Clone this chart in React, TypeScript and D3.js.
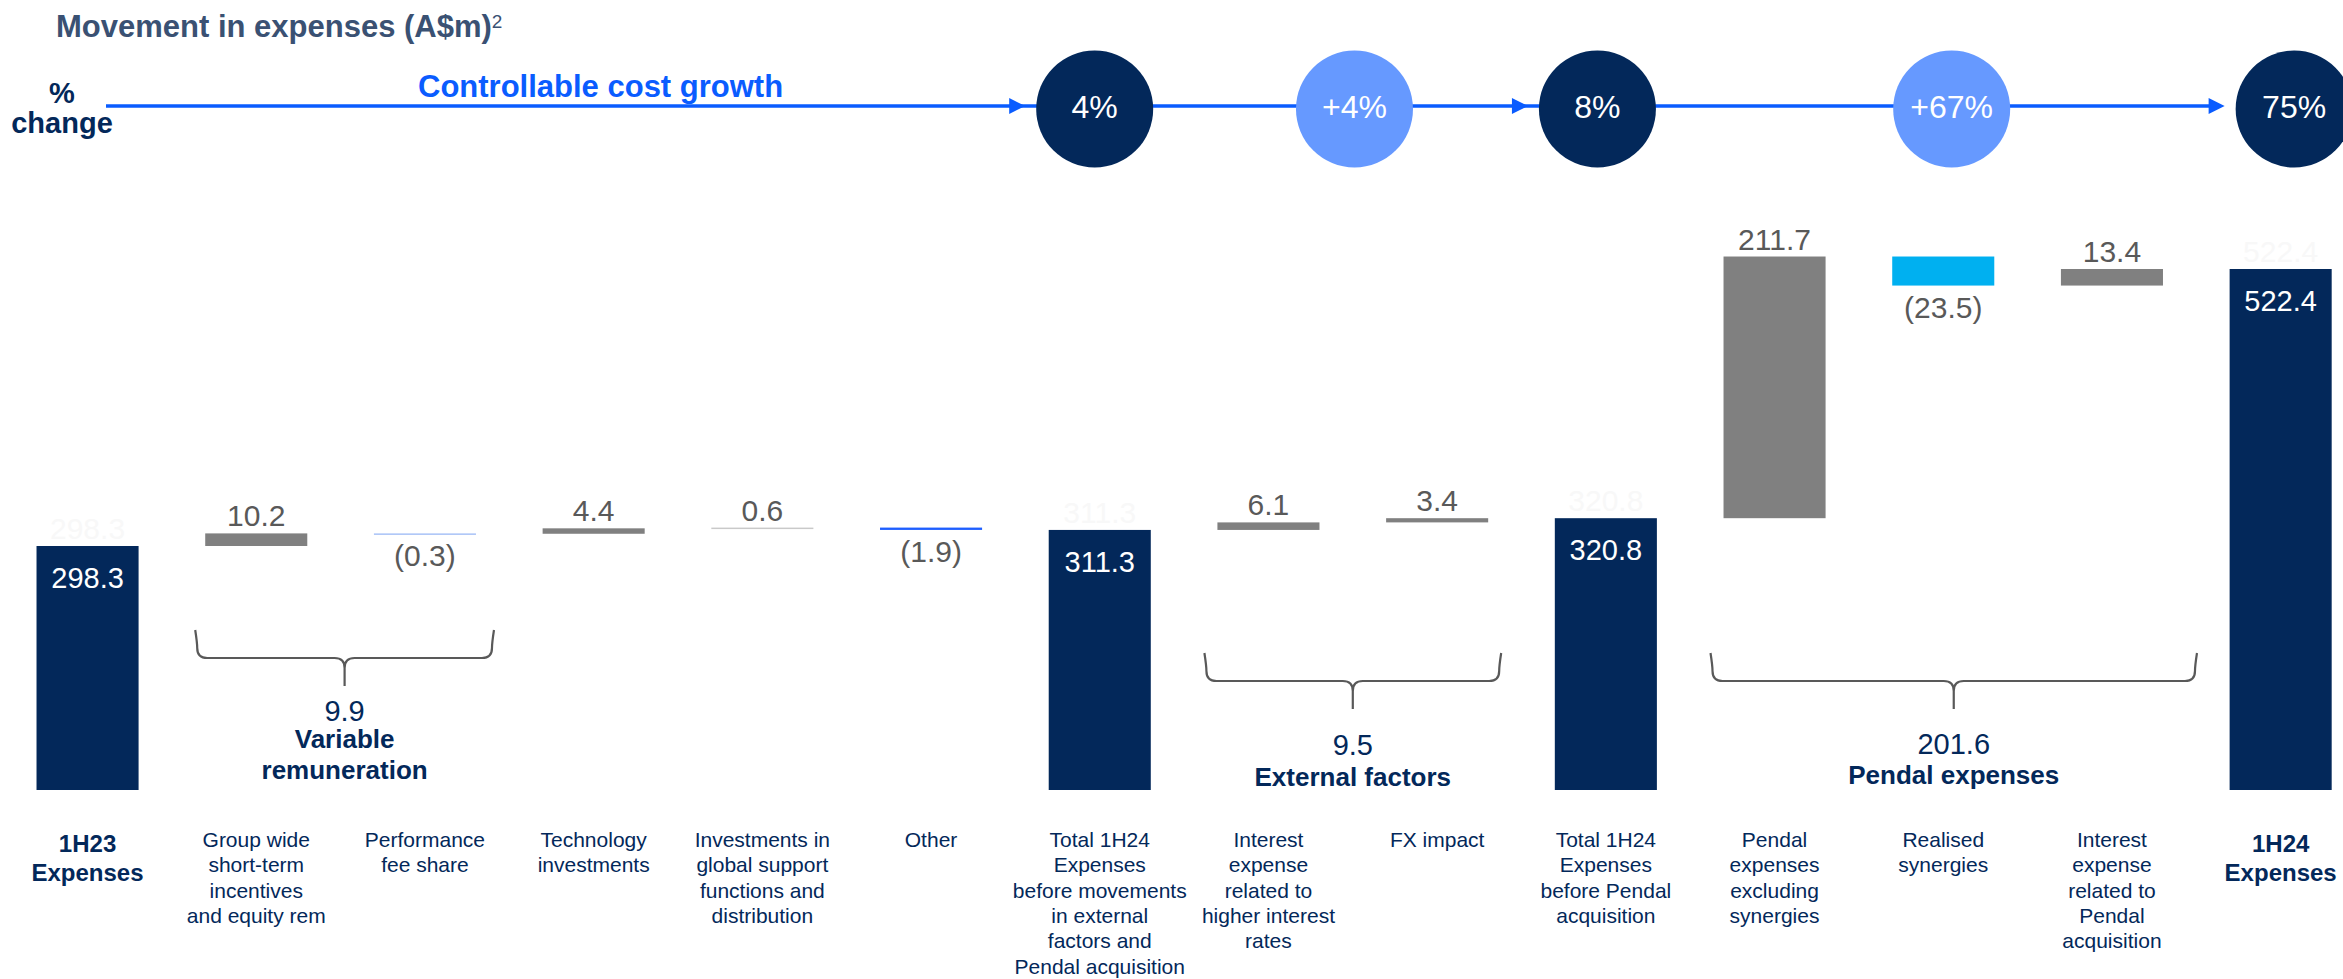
import React from 'react';
import * as d3 from 'd3';

// ---------- DATA ----------
const categories: string[][] = [
  ['1H23', 'Expenses'],
  ['Group wide', 'short-term', 'incentives', 'and equity rem'],
  ['Performance', 'fee share'],
  ['Technology', 'investments'],
  ['Investments in', 'global support', 'functions and', 'distribution'],
  ['Other'],
  ['Total 1H24', 'Expenses', 'before movements', 'in external', 'factors and', 'Pendal acquisition'],
  ['Interest', 'expense', 'related to', 'higher interest', 'rates'],
  ['FX impact'],
  ['Total 1H24', 'Expenses', 'before Pendal', 'acquisition'],
  ['Pendal', 'expenses', 'excluding', 'synergies'],
  ['Realised', 'synergies'],
  ['Interest', 'expense', 'related to', 'Pendal', 'acquisition'],
  ['1H24', 'Expenses'],
];
const values: number[] = [298.3, 10.2, -0.3, 4.4, 0.6, -1.9, 311.3, 6.1, 3.4, 320.8, 211.7, -23.5, 13.4, 522.4];
const kinds: string[] = ['total', 'delta', 'delta', 'delta', 'delta', 'delta', 'total', 'delta', 'delta', 'total', 'delta', 'delta', 'delta', 'total'];

const groupFrom: number[] = [1, 7, 10];
const groupTo: number[] = [2, 8, 12];
const groupTotals: number[] = [9.9, 9.5, 201.6];
const groupNames: string[][] = [['Variable', 'remuneration'], ['External factors'], ['Pendal expenses']];

const pctLabels: string[] = ['4%', '+4%', '8%', '+67%', '75%'];
const pctAt: number[] = [5.97, 7.51, 8.95, 11.05, 13.08];
const pctKind: string[] = ['total', 'delta', 'total', 'delta', 'total'];

// ---------- STYLES ----------
const NAVY = '#03285A';
const GRAY = '#808080';
const TXT_GRAY = '#595959';
const BLUE_LINE = '#0A5CFF';
const LIGHT_CIRCLE = '#6699FF';
const barColors: string[] = [
  NAVY, GRAY, '#A9C2F7', GRAY, '#C9C9C9', '#1F5FFF', NAVY, GRAY, GRAY, NAVY, GRAY, '#00B0F0', GRAY, NAVY,
];
const FONT = '"Liberation Sans", Arial, Helvetica, sans-serif';

// brace layout (positions, not data)
const braceLayout = [
  { padL: 8, padR: 16, top: 630, mid: 658, tip: 686, num: 721, name: [748, 779] },
  { padL: 11, padR: 11, top: 653, mid: 681, tip: 709, num: 755, name: [786] },
  { padL: 11, padR: 32, top: 653, mid: 681, tip: 709, num: 754, name: [784] },
];

const W = 2343;
const H = 979;

function fmt(v: number) {
  return v < 0 ? `(${Math.abs(v).toFixed(1)})` : v.toFixed(1);
}

function bracePath(x0: number, x1: number, xc: number, top: number, mid: number, tip: number) {
  const r = 10;
  const r2 = 10;
  return [
    `M${x0 - 2},${top}`,
    `Q${x0},${mid - r * 1.5} ${x0},${mid - r}`,
    `Q${x0},${mid} ${x0 + r},${mid}`,
    `L${xc - r2},${mid}`,
    `Q${xc},${mid} ${xc},${mid + r2}`,
    `L${xc},${tip}`,
    `M${xc},${mid + r2}`,
    `Q${xc},${mid} ${xc + r2},${mid}`,
    `L${x1 - r},${mid}`,
    `Q${x1},${mid} ${x1},${mid - r}`,
    `Q${x1},${mid - r * 1.5} ${x1 + 2},${top}`,
  ].join(' ');
}

export default function App() {
  const idx = values.map((_, i) => i);
  const x = d3
    .scaleBand<number>()
    .domain(idx)
    .range([3.2, 2365])
    .paddingInner(0.395)
    .paddingOuter(0.1975);
  const bw = x.bandwidth();
  const y = d3.scaleLinear().domain([100.9, 522.4]).range([790, 269]);
  const yBase = y.domain()[0];

  // waterfall layout
  let run = 0;
  const bars = values.map((v, i) => {
    if (kinds[i] === 'total') {
      run = v;
      return { i, v, lo: yBase, hi: v, total: true };
    }
    const a = run;
    run = run + v;
    return { i, v, lo: Math.min(a, run), hi: Math.max(a, run), total: false };
  });

  const cx = (i: number) => (x(i) as number) + bw / 2;
  const idxX = d3.scaleLinear().domain([0, 13]).range([cx(0), cx(13)]);

  const lineY = 106;
  const circY = 109;
  const R = 58.5;
  const totalCircles = pctLabels.map((_, k) => k).filter((k) => pctKind[k] === 'total');
  const lastTip = idxX(pctAt[totalCircles[totalCircles.length - 1]]) - R - 11;

  return (
    <svg
      width={W}
      height={H}
      viewBox={`0 0 ${W} ${H}`}
      style={{ position: 'absolute', left: 0, top: 0, background: '#fff' }}
      fontFamily={FONT}
    >
      {/* Title */}
      <text x={56} y={37} fontSize={31} fontWeight="bold" fill="#3A5173">
        Movement in expenses (A$m)
        <tspan fontSize={19} fontWeight="normal" dy={-9}>2</tspan>
      </text>

      {/* % change */}
      <text x={62} y={103} fontSize={29} fontWeight="bold" fill={NAVY} textAnchor="middle">%</text>
      <text x={62} y={133} fontSize={29} fontWeight="bold" fill={NAVY} textAnchor="middle">change</text>

      {/* Controllable cost growth line */}
      <line x1={106} x2={lastTip - 4} y1={lineY} y2={lineY} stroke={BLUE_LINE} strokeWidth={3.5} />
      <text x={418} y={97} fontSize={31} fontWeight="bold" fill={BLUE_LINE}>Controllable cost growth</text>
      {totalCircles.map((k) => {
        const tip = idxX(pctAt[k]) - R - 11;
        return (
          <path key={`ah${k}`} d={`M${tip - 16},${lineY - 8} L${tip},${lineY} L${tip - 16},${lineY + 8} Z`} fill={BLUE_LINE} />
        );
      })}
      {pctLabels.map((lab, k) => {
        const c = idxX(pctAt[k]);
        return (
          <g key={`c${k}`}>
            <circle cx={c} cy={circY} r={R} fill={pctKind[k] === 'total' ? NAVY : LIGHT_CIRCLE} />
            <text x={c} y={118} fontSize={32} fill="#fff" textAnchor="middle">{lab}</text>
          </g>
        );
      })}

      {/* Bars */}
      {bars.map((b) => {
        const top = y(b.hi);
        const bot = y(b.lo);
        const h = Math.max(bot - top, 1.5);
        return (
          <rect key={`b${b.i}`} x={x(b.i)} y={top} width={bw} height={h} fill={barColors[b.i]} />
        );
      })}

      {/* Value labels */}
      {bars.map((b) => {
        const c = cx(b.i);
        if (b.total) {
          const top = y(b.hi);
          return (
            <g key={`l${b.i}`}>
              <text x={c} y={top - 7} fontSize={30} fill="#F8F8F8" textAnchor="middle">{fmt(b.v)}</text>
              <text x={c} y={top + 42} fontSize={29} fill="#fff" textAnchor="middle">{fmt(b.v)}</text>
            </g>
          );
        }
        if (b.v >= 0) {
          return (
            <text key={`l${b.i}`} x={c} y={y(b.hi) - 7} fontSize={30} fill={TXT_GRAY} textAnchor="middle">{fmt(b.v)}</text>
          );
        }
        return (
          <text key={`l${b.i}`} x={c} y={y(b.lo) + 32} fontSize={30} fill={TXT_GRAY} textAnchor="middle">{fmt(b.v)}</text>
        );
      })}

      {/* Braces */}
      {groupTotals.map((t, g) => {
        const L = braceLayout[g];
        const x0 = (x(groupFrom[g]) as number) - L.padL;
        const x1 = (x(groupTo[g]) as number) + bw + L.padR;
        const xc = (x0 + x1) / 2;
        return (
          <g key={`br${g}`}>
            <path d={bracePath(x0, x1, xc, L.top, L.mid, L.tip)} fill="none" stroke={TXT_GRAY} strokeWidth={2.2} />
            <text x={xc} y={L.num} fontSize={29} fill={NAVY} textAnchor="middle">{t.toFixed(1)}</text>
            {groupNames[g].map((n, j) => (
              <text key={j} x={xc} y={L.name[j]} fontSize={26} fontWeight="bold" fill={NAVY} textAnchor="middle">{n}</text>
            ))}
          </g>
        );
      })}

      {/* Category labels */}
      {categories.map((lines, i) => {
        const bold = kinds[i] === 'total' && (i === 0 || i === categories.length - 1);
        return (
          <g key={`cat${i}`}>
            {lines.map((ln, j) => (
              <text
                key={j}
                x={cx(i)}
                y={bold ? 852 + j * 29 : 847 + j * 25.3}
                fontSize={bold ? 24 : 21}
                fontWeight={bold ? 'bold' : 'normal'}
                fill={NAVY}
                textAnchor="middle"
              >
                {ln}
              </text>
            ))}
          </g>
        );
      })}
    </svg>
  );
}
